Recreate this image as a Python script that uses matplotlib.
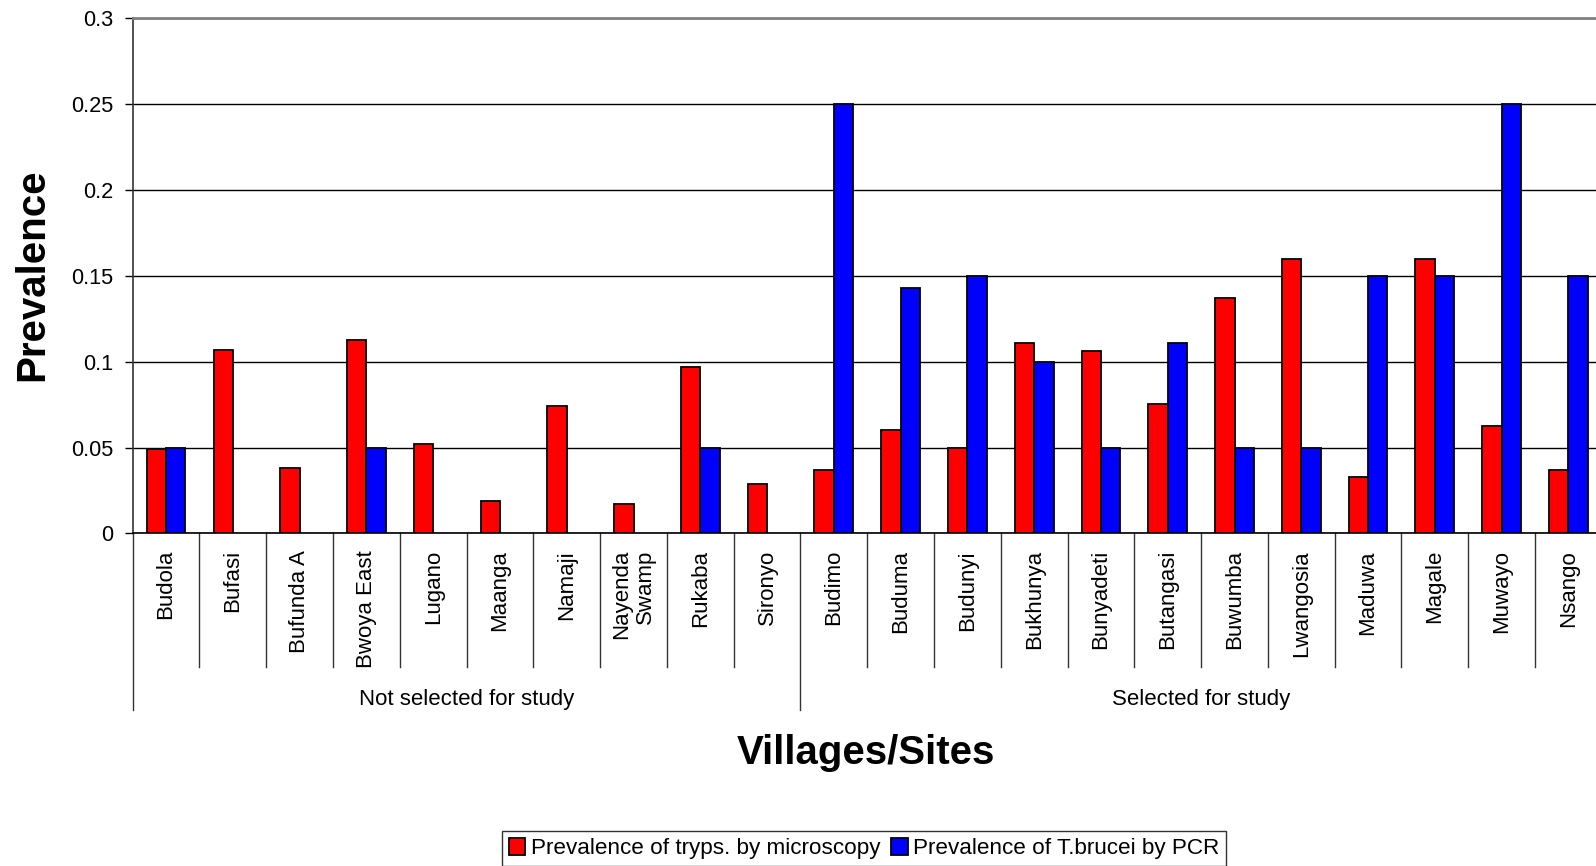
import matplotlib
matplotlib.use("Agg")
import matplotlib.pyplot as plt
from matplotlib.patches import Patch
from matplotlib.transforms import blended_transform_factory
import numpy as np

plt.rcParams["font.family"] = ["Liberation Sans", "DejaVu Sans"]

villages = ["Budola", "Bufasi", "Bufunda A", "Bwoya East", "Lugano", "Maanga",
            "Namaji", "Nayenda\nSwamp", "Rukaba", "Sironyo",
            "Budimo", "Buduma", "Budunyi", "Bukhunya", "Bunyadeti", "Butangasi",
            "Buwumba", "Lwangosia", "Maduwa", "Magale", "Muwayo", "Nsango"]
groups = ["Not selected for study", "Selected for study"]
group_sizes = [10, 12]

microscopy = [0.049, 0.107, 0.038, 0.1125, 0.052, 0.019, 0.074, 0.017, 0.097, 0.029,
              0.037, 0.060, 0.050, 0.111, 0.106, 0.0755, 0.137, 0.160, 0.033, 0.160,
              0.0625, 0.037]
pcr = [0.05, None, None, 0.05, None, None, None, None, 0.05, None,
       0.25, 0.143, 0.15, 0.10, 0.05, 0.111, 0.05, 0.05, 0.15, 0.15,
       0.25, 0.15]

series_labels = ["Prevalence of tryps. by microscopy", "Prevalence of T.brucei by PCR"]
yticks = [0, 0.05, 0.1, 0.15, 0.2, 0.25, 0.3]
ytick_labels = ["0", "0.05", "0.1", "0.15", "0.2", "0.25", "0.3"]

W, H = 1596, 866
fig = plt.figure(figsize=(W / 100, H / 100), dpi=100)
ax_left, ax_right, ax_top, ax_bot = 132.7, 1601.8, 18.3, 533.4
ax = fig.add_axes([ax_left / W, 1 - ax_bot / H, (ax_right - ax_left) / W, (ax_bot - ax_top) / H])

x = np.arange(len(villages))
bw = 0.29
ax.bar(x - bw / 2, microscopy, width=bw, color="#FF0000", edgecolor="black",
       linewidth=1.3, zorder=3)
px = [i for i, v in enumerate(pcr) if v is not None]
pv = [v for v in pcr if v is not None]
ax.bar(np.array(px) + bw / 2, pv, width=bw, color="#0000FF", edgecolor="black",
       linewidth=1.3, zorder=3)

ax.set_xlim(-0.5, len(villages) - 0.5)
ax.set_ylim(0, 0.3)
ax.set_yticks(yticks)
ax.set_yticklabels(ytick_labels)
ax.tick_params(axis="y", direction="out", length=5.5, width=1, pad=8.5,
               labelsize=15.7, colors="black")
ax.yaxis.grid(True, color="black", linewidth=1, zorder=0)
ax.set_axisbelow(True)

ax.set_xticks(x)
ax.set_xticklabels(villages, rotation=90, ha="center", va="top",
                   multialignment="right", fontsize=16)
ax.tick_params(axis="x", length=0, pad=12)

ax.spines["right"].set_visible(False)
ax.spines["top"].set_color("#808080")
ax.spines["top"].set_linewidth(2)
ax.spines["left"].set_color("#333333")
ax.spines["left"].set_linewidth(1.2)
ax.spines["bottom"].set_color("black")
ax.spines["bottom"].set_linewidth(1.2)

# category and group separators below the axis
trans = blended_transform_factory(ax.transData, ax.transAxes)
cat_depth = -(667 - ax_bot) / (ax_bot - ax_top)
grp_depth = -(710 - ax_bot) / (ax_bot - ax_top)
bounds = np.cumsum([0] + group_sizes) - 0.5
for i in range(len(villages) + 1):
    xb = i - 0.5
    depth = grp_depth if xb in bounds else cat_depth
    ax.plot([xb, xb], [0, depth], color="#333333", linewidth=1,
            transform=trans, clip_on=False)

grp_y = -(699 - ax_bot) / (ax_bot - ax_top)
for name, lo, hi in zip(groups, bounds[:-1], bounds[1:]):
    ax.text((lo + hi) / 2, grp_y, name, transform=trans, ha="center",
            va="center", fontsize=16)

fig.text(866 / W, 1 - 753 / H, "Villages/Sites", ha="center", va="center",
         fontsize=29, fontweight="bold")
fig.text(32.6 / W, 1 - 275 / H, "Prevalence", ha="center", va="center",
         rotation=90, fontsize=29, fontweight="bold")

handles = [Patch(facecolor="#FF0000", edgecolor="black", linewidth=1.3),
           Patch(facecolor="#0000FF", edgecolor="black", linewidth=1.3)]
leg = fig.legend(handles, series_labels, loc="lower center",
                 bbox_to_anchor=(864 / W, 0.0), ncol=2, fontsize=16.2,
                 frameon=True, fancybox=False, borderpad=0.3,
                 handlelength=0.75, handleheight=0.75, handletextpad=0.25,
                 columnspacing=0.45, borderaxespad=0.0)
leg.get_frame().set_edgecolor("black")
leg.get_frame().set_linewidth(1)

fig.savefig("out.png", dpi=100)
